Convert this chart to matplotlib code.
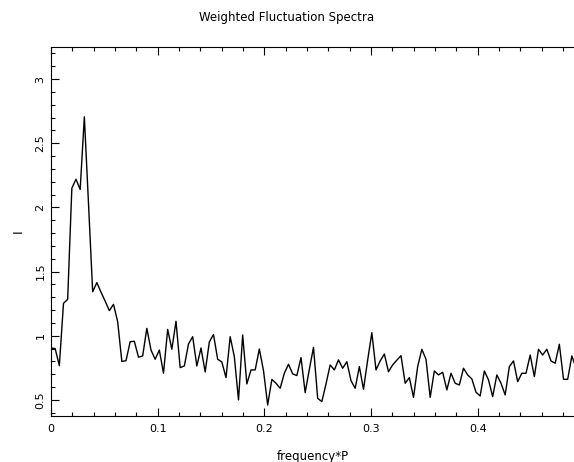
import numpy as np
import matplotlib
matplotlib.use("Agg")
import matplotlib.pyplot as plt
from matplotlib.ticker import MultipleLocator

title = "Weighted Fluctuation Spectra"
xlabel = "frequency*P"
ylabel = "I"
dfreq = 1.0 / 256.0
power = [0.905, 0.90, 0.767, 1.253, 1.284, 2.149, 2.22, 2.14, 2.706, 2.03,
         1.343, 1.414, 1.34, 1.27, 1.196, 1.245, 1.11, 0.80, 0.806, 0.954,
         0.957, 0.833, 0.843, 1.058, 0.889, 0.817, 0.889, 0.708, 1.05, 0.895,
         1.113, 0.752, 0.765, 0.936, 0.993, 0.765, 0.905, 0.718, 0.952, 1.01,
         0.817, 0.796, 0.674, 0.993, 0.837, 0.50, 1.006, 0.625, 0.734, 0.734,
         0.897, 0.728, 0.461, 0.66, 0.63, 0.591, 0.708, 0.778, 0.703, 0.69,
         0.83, 0.557, 0.739, 0.91, 0.513, 0.487, 0.625, 0.773, 0.734, 0.812,
         0.747, 0.798, 0.65, 0.591, 0.76, 0.583, 0.812, 1.024, 0.734, 0.804,
         0.858, 0.72, 0.773, 0.81, 0.845, 0.63, 0.674, 0.52, 0.76, 0.895,
         0.817, 0.52, 0.726, 0.695, 0.716, 0.578, 0.708, 0.63, 0.617, 0.747,
         0.695, 0.664, 0.56, 0.531, 0.726, 0.656, 0.526, 0.695, 0.63, 0.539,
         0.76, 0.804, 0.643, 0.708, 0.708, 0.85, 0.682, 0.895, 0.85, 0.895,
         0.804, 0.786, 0.934, 0.661, 0.661, 0.843, 0.75]
freq = np.arange(len(power)) * dfreq

fig = plt.figure(figsize=(5.74, 4.62), dpi=100)
ax = fig.add_axes([51/574, 46/462, 523/574, 369/462])
ax.plot(freq, power, color="black", lw=1.0)
ax.set_xlim(0, 0.4903)
ax.set_ylim(0.375, 3.25)

ax.xaxis.set_major_locator(MultipleLocator(0.1))
ax.xaxis.set_minor_locator(MultipleLocator(0.02))
ax.yaxis.set_major_locator(MultipleLocator(0.5))
ax.yaxis.set_minor_locator(MultipleLocator(0.1))
ax.xaxis.set_major_formatter(matplotlib.ticker.FuncFormatter(lambda v, p: "0" if abs(v) < 1e-9 else f"{v:g}"))
ax.yaxis.set_major_formatter(matplotlib.ticker.FuncFormatter(lambda v, p: f"{v:g}"))

ax.tick_params(which="both", direction="in", top=True, right=False, width=0.8,
               labelsize=8, colors="black")
ax.tick_params(which="major", length=6)
ax.tick_params(axis="x", which="major", pad=6)
ax.tick_params(axis="y", which="major", pad=4)
ax.tick_params(which="minor", length=3)
for lab in ax.get_yticklabels():
    lab.set_rotation(90)
    lab.set_va("center")
ax.spines["right"].set_visible(False)
for s in ["left", "bottom", "top"]:
    ax.spines[s].set_linewidth(0.8)

ax.set_xlabel(xlabel, fontsize=8.5, labelpad=11)
ax.set_ylabel(ylabel, fontsize=9, rotation=90, labelpad=8)
fig.text(0.5, 1 - 17/462, title, ha="center", va="center", fontsize=8.5)

fig.savefig("out.png", dpi=100)
